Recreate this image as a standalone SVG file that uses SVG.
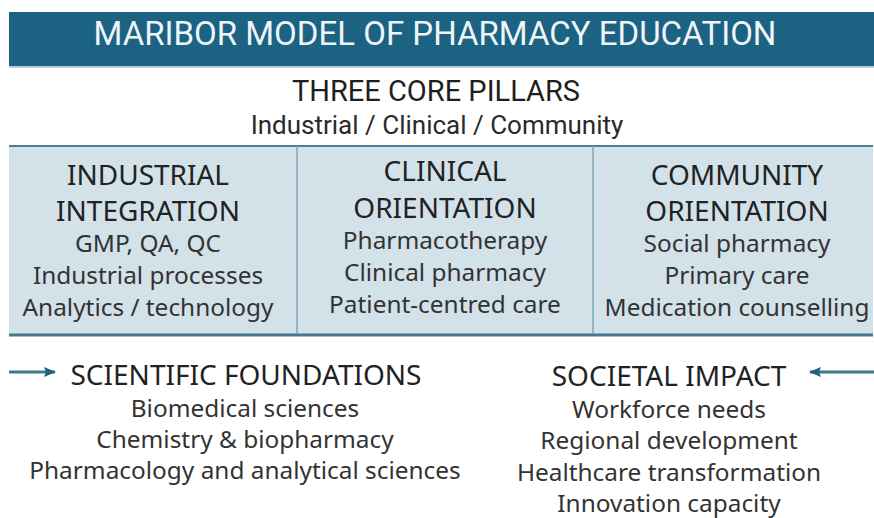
<svg xmlns="http://www.w3.org/2000/svg" width="874" height="518" viewBox="0 0 874 518">
<defs>
<marker id="ah" markerWidth="14" markerHeight="14" refX="11" refY="6" orient="auto" markerUnits="userSpaceOnUse">
<path d="M0,1 L12,6 L0,11 L2,6 Z" fill="#1d6282"/>
</marker>
<style>
.title{font-family:Roboto,"Liberation Sans",sans-serif;font-size:33px;fill:#eef5f8;text-anchor:middle}
.sub1{font-family:Roboto,"Liberation Sans",sans-serif;font-size:29px;fill:#1e1e1e;text-anchor:middle}
.sub2{font-family:Roboto,"Liberation Sans",sans-serif;font-size:26px;fill:#2a2a2a;text-anchor:middle}
.hd{font-family:"Noto Sans","Open Sans",sans-serif;font-size:28px;fill:#222;text-anchor:middle}
.it{font-family:"Noto Sans","Open Sans",sans-serif;font-size:24.4px;fill:#333;text-anchor:middle}
.conn{stroke:#3f7891;stroke-width:3;fill:none}
</style>
</defs>
<rect width="874" height="518" fill="#ffffff"/>
<g id="header">
<rect x="9" y="12" width="865" height="55" fill="#1b6283"/>
<rect x="9" y="66" width="865" height="2" fill="#b7ccd6"/>
<text class="title" x="435" y="45">MARIBOR MODEL OF PHARMACY EDUCATION</text>
</g>
<g id="core-pillars">
<text class="sub1" x="436" y="101">THREE CORE PILLARS</text>
<text class="sub2" x="437" y="134">Industrial / Clinical / Community</text>
</g>
<g id="pillars-box">
<rect x="9" y="146" width="864" height="189" fill="#d3e1e9"/>
<line x1="9" y1="146" x2="873" y2="146" stroke="#4d8098" stroke-width="2"/>
<line x1="9" y1="335" x2="873" y2="335" stroke="#44778f" stroke-width="3"/>
<line x1="297" y1="146" x2="297" y2="334" stroke="#7fa5b8" stroke-width="1.5"/>
<line x1="593" y1="146" x2="593" y2="334" stroke="#7fa5b8" stroke-width="1.5"/>
</g>
<g id="industrial">
<text class="hd" x="148" y="185">INDUSTRIAL</text>
<text class="hd" x="148" y="221">INTEGRATION</text>
<text class="it" x="148" y="252">GMP, QA, QC</text>
<text class="it" x="148" y="284">Industrial processes</text>
<text class="it" x="148" y="316">Analytics / technology</text>
</g>
<g id="clinical">
<text class="hd" x="445" y="181">CLINICAL</text>
<text class="hd" x="445" y="218">ORIENTATION</text>
<text class="it" x="445" y="249">Pharmacotherapy</text>
<text class="it" x="445" y="281">Clinical pharmacy</text>
<text class="it" x="445" y="313">Patient-centred care</text>
</g>
<g id="community">
<text class="hd" x="737" y="185">COMMUNITY</text>
<text class="hd" x="737" y="221">ORIENTATION</text>
<text class="it" x="737" y="252">Social pharmacy</text>
<text class="it" x="737" y="284">Primary care</text>
<text class="it" x="737" y="316">Medication counselling</text>
</g>
<g id="scientific-foundations">
<text class="hd" x="246" y="385">SCIENTIFIC FOUNDATIONS</text>
<text class="it" x="245" y="417">Biomedical sciences</text>
<text class="it" x="245" y="448">Chemistry &amp; biopharmacy</text>
<text class="it" x="245" y="479">Pharmacology and analytical sciences</text>
</g>
<g id="societal-impact">
<text class="hd" x="669" y="386">SOCIETAL IMPACT</text>
<text class="it" x="669" y="418">Workforce needs</text>
<text class="it" x="669" y="449">Regional development</text>
<text class="it" x="669" y="481">Healthcare transformation</text>
<text class="it" x="669" y="512">Innovation capacity</text>
</g>
<g id="connectors">
<line class="conn" x1="9" y1="372" x2="55" y2="372" marker-end="url(#ah)"/>
<line class="conn" x1="874" y1="372" x2="810" y2="372" marker-end="url(#ah)"/>
</g>
</svg>
